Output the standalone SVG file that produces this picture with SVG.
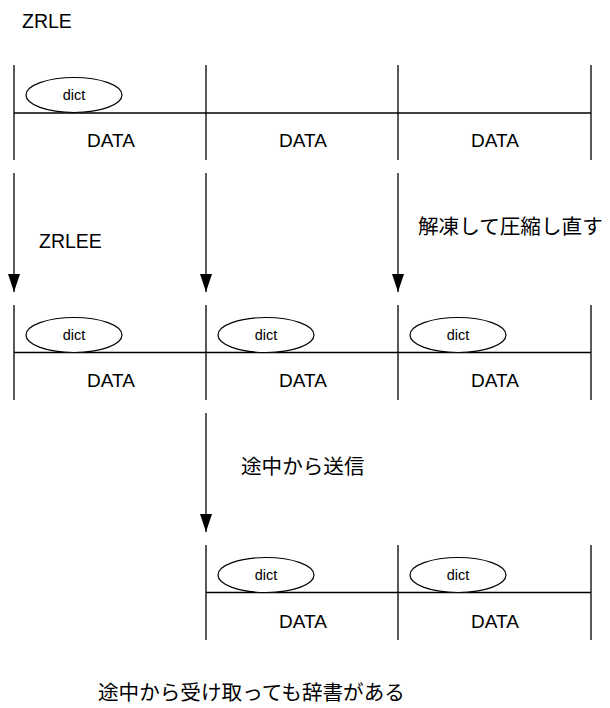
<svg xmlns="http://www.w3.org/2000/svg" width="610" height="708" viewBox="0 0 610 708">
<defs>
<style>
line{stroke:#000;stroke-width:1.3}
ellipse{fill:#fff;stroke:#000;stroke-width:1.2}
.t{font-family:"Liberation Sans",Arial,sans-serif;fill:#000}
.d{font-size:14.5px;text-anchor:middle}
.D{font-size:19px;text-anchor:middle}
.L{font-size:19.5px}
.j{font-family:"Noto Sans CJK JP","Liberation Sans",sans-serif;font-size:20.6px;fill:#000}
</style>
<marker id="ah" markerWidth="18" markerHeight="12" refX="18" refY="6" orient="auto" markerUnits="userSpaceOnUse" viewBox="0 0 18 12">
<path d="M0,0 L18,6 L0,12 Z" fill="#000"/>
</marker>
</defs>
<rect width="610" height="708" fill="#fff"/>
<text class="t L" x="22" y="28">ZRLE</text>
<g id="row1">
<line x1="14" y1="65" x2="14" y2="160"/>
<line x1="206" y1="65" x2="206" y2="160"/>
<line x1="398" y1="65" x2="398" y2="160"/>
<line x1="591" y1="65" x2="591" y2="160"/>
<line x1="14" y1="113" x2="591" y2="113"/>
<g id="r1c1"><ellipse cx="74" cy="95" rx="48" ry="17.5"/><text class="t d" x="74" y="100">dict</text><text class="t D" x="111" y="147">DATA</text></g>
<g id="r1c2"><text class="t D" x="303" y="147">DATA</text></g>
<g id="r1c3"><text class="t D" x="495" y="147">DATA</text></g>
</g>
<g id="row2">
<line x1="14" y1="305" x2="14" y2="400"/>
<line x1="206" y1="305" x2="206" y2="400"/>
<line x1="398" y1="305" x2="398" y2="400"/>
<line x1="591" y1="305" x2="591" y2="400"/>
<line x1="14" y1="352.5" x2="591" y2="352.5"/>
<g id="r2c1"><ellipse cx="74" cy="335" rx="48" ry="17.5"/><text class="t d" x="74" y="340">dict</text><text class="t D" x="111" y="387">DATA</text></g>
<g id="r2c2"><ellipse cx="266" cy="335" rx="48" ry="17.5"/><text class="t d" x="266" y="340">dict</text><text class="t D" x="303" y="387">DATA</text></g>
<g id="r2c3"><ellipse cx="458" cy="335" rx="48" ry="17.5"/><text class="t d" x="458" y="340">dict</text><text class="t D" x="495" y="387">DATA</text></g>
</g>
<g id="row3">
<line x1="206" y1="545" x2="206" y2="640"/>
<line x1="398" y1="545" x2="398" y2="640"/>
<line x1="591" y1="545" x2="591" y2="640"/>
<line x1="206" y1="592.5" x2="591" y2="592.5"/>
<g id="r3c1"><ellipse cx="266" cy="575" rx="48" ry="17.5"/><text class="t d" x="266" y="580">dict</text><text class="t D" x="303" y="628">DATA</text></g>
<g id="r3c2"><ellipse cx="458" cy="575" rx="48" ry="17.5"/><text class="t d" x="458" y="580">dict</text><text class="t D" x="495" y="628">DATA</text></g>
</g>
<g id="connectors">
<line x1="14" y1="173" x2="14" y2="292" marker-end="url(#ah)"/>
<line x1="206" y1="173" x2="206" y2="292" marker-end="url(#ah)"/>
<line x1="398" y1="173" x2="398" y2="292" marker-end="url(#ah)"/>
<line x1="206" y1="413" x2="206" y2="532" marker-end="url(#ah)"/>
</g>
<text class="t L" x="39" y="248">ZRLEE</text>
<text class="j" x="418" y="234">解凍して圧縮し直す</text>
<text class="j" x="241" y="474">途中から送信</text>
<text class="j" x="98" y="700">途中から受け取っても辞書がある</text>
</svg>
